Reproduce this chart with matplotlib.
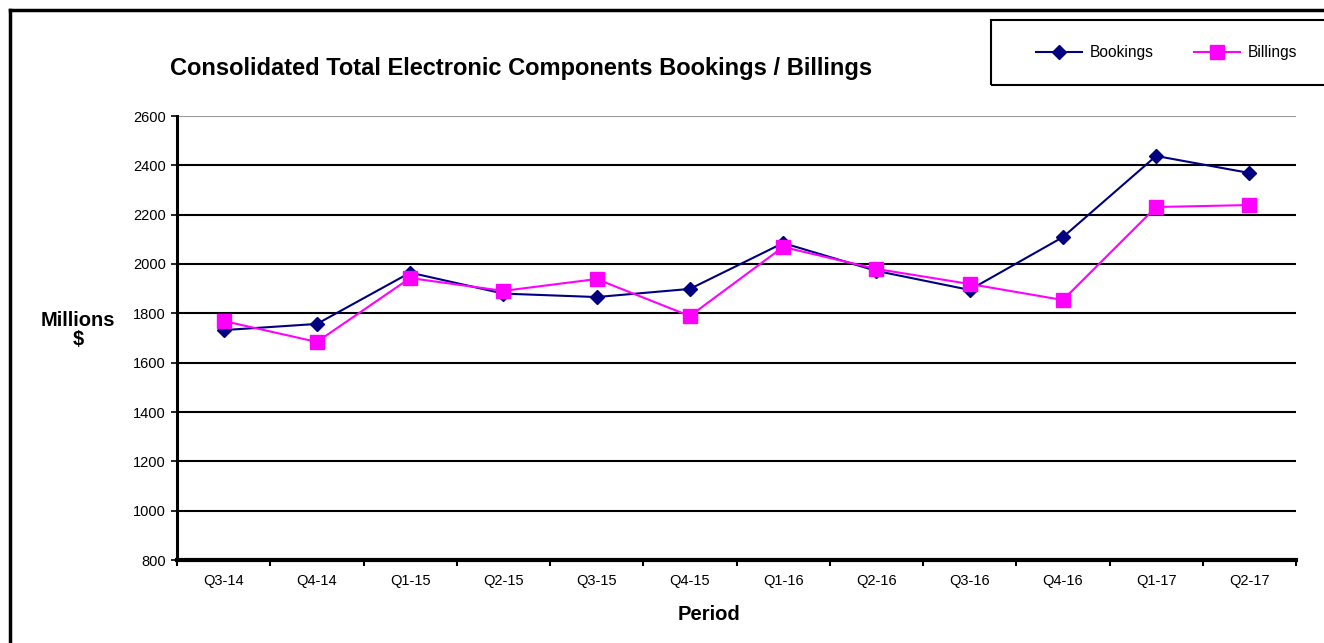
import matplotlib
matplotlib.use("Agg")
import matplotlib.pyplot as plt
from matplotlib.lines import Line2D
from matplotlib.patches import Rectangle

plt.rcParams['font.family'] = ['Liberation Sans', 'DejaVu Sans']

quarters = ["Q3-14", "Q4-14", "Q1-15", "Q2-15", "Q3-15", "Q4-15",
            "Q1-16", "Q2-16", "Q3-16", "Q4-16", "Q1-17", "Q2-17"]
bookings = [1732, 1757, 1965, 1880, 1866, 1899, 2085, 1972, 1895, 2109, 2438, 2369]
billings = [1769, 1684, 1943, 1891, 1939, 1789, 2069, 1980, 1919, 1854, 2231, 2239]
y_ticks = [800, 1000, 1200, 1400, 1600, 1800, 2000, 2200, 2400, 2600]

W, H = 1324, 643
fig = plt.figure(figsize=(W / 100, H / 100), dpi=100)


def fx(px):
    return px / W


def fy(py):
    return 1 - py / H


ax = fig.add_axes([fx(177), fy(560), fx(1296) - fx(177), fy(116) - fy(560)])

x = list(range(len(quarters)))
ax.plot(x, bookings, color="#000080", lw=1.5, marker="D", ms=7.5, label="Bookings")
ax.plot(x, billings, color="#FF00FF", lw=1.5, marker="s", ms=10, label="Billings")

ax.set_xlim(-0.5, len(quarters) - 0.5)
ax.set_ylim(800, 2600)
ax.set_yticks(y_ticks)
ax.set_yticklabels([str(v) for v in y_ticks], fontsize=10.5)
ax.set_xticks(x)
ax.set_xticklabels(quarters, fontsize=10.5)
ax.tick_params(axis="x", length=0, pad=10)
ax.set_xticks([i - 0.5 for i in range(len(quarters) + 1)], minor=True)
ax.tick_params(axis="x", which="minor", length=4, width=1.5, direction="out")
ax.tick_params(axis="y", length=4, width=1.2, direction="out", pad=4)

for v in y_ticks[1:]:
    c = "#999999" if v == 2600 else "black"
    ax.axhline(v, color=c, lw=1.5, zorder=0)

for s in ["top", "right"]:
    ax.spines[s].set_visible(False)
ax.spines["left"].set_linewidth(2.2)
ax.spines["bottom"].set_linewidth(3)

fig.text(fx(709), fy(615), "Period", ha="center", va="center",
         fontsize=14.5, fontweight="bold")
fig.text(fx(78), fy(330), "Millions\n$", ha="center", va="center",
         fontsize=14.5, fontweight="bold", linespacing=1.0)

fig.text(fx(521), fy(68), "Consolidated Total Electronic Components Bookings / Billings",
         ha="center", va="center", fontsize=17, fontweight="bold")

# outer chart border
fig.add_artist(Line2D([fx(10), fx(10)], [fy(10), 0], color="black", lw=2.5))
fig.add_artist(Line2D([fx(10), 1], [fy(10), fy(10)], color="black", lw=2.5))

# legend box
fig.add_artist(Rectangle((fx(991), fy(85)), fx(340), fy(20) - fy(85),
                         fill=False, edgecolor="black", lw=1.5))
fig.legend(loc="center left", bbox_to_anchor=(fx(1028), fy(53)), ncol=2,
           frameon=False, fontsize=11.2, handlelength=3.0, handletextpad=0.45,
           columnspacing=2.6, borderpad=0)

fig.savefig("out.png", dpi=100)
